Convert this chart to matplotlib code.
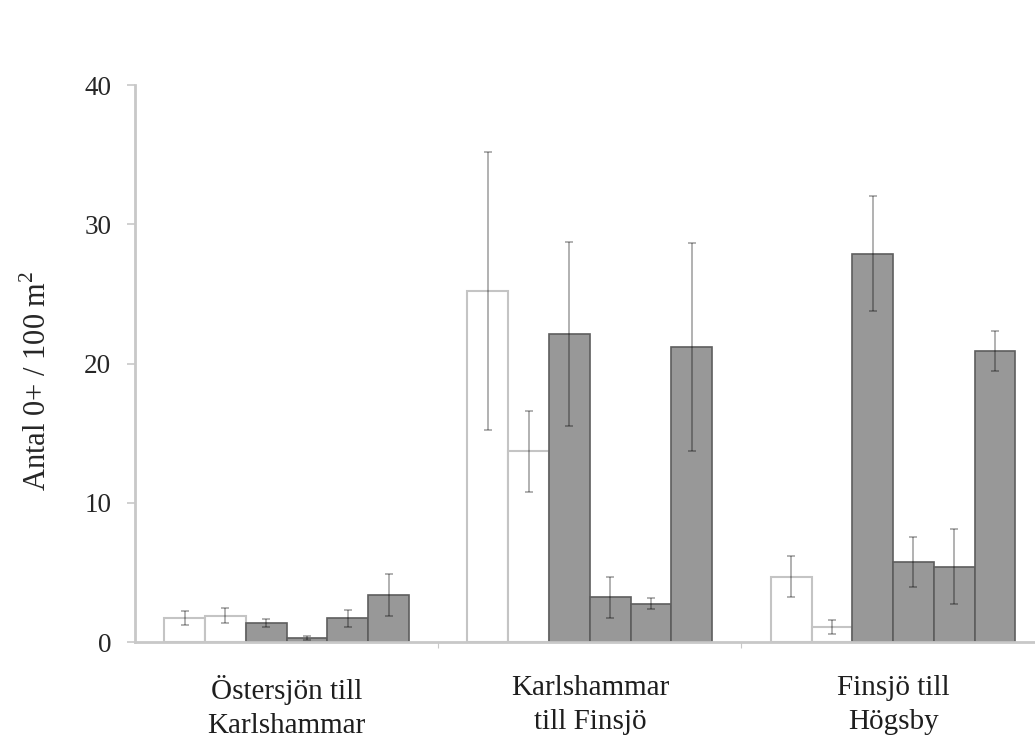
import numpy as np
import matplotlib
matplotlib.use("Agg")
import matplotlib.pyplot as plt

# sites and per-site values (6 bars per site: 2 white, 4 grey)
sites = ["Östersjön till\nKarlshammar", "Karlshammar\ntill Finsjö", "Finsjö till\nHögsby"]
means = [
    [1.75, 1.9, 1.35, 0.3, 1.7, 3.4],
    [25.2, 13.7, 22.1, 3.2, 2.75, 21.2],
    [4.7, 1.1, 27.9, 5.75, 5.4, 20.9],
]
errs = [
    [0.5, 0.55, 0.27, 0.15, 0.6, 1.5],
    [10.0, 2.9, 6.6, 1.45, 0.38, 7.45],
    [1.5, 0.5, 4.1, 1.8, 2.7, 1.45],
]
is_white = [True, True, False, False, False, False]

plt.rcParams['font.family'] = ['Liberation Serif', 'DejaVu Serif']

fig = plt.figure(figsize=(10.35, 7.4), dpi=100)
ax = fig.add_axes([0.1304, 0.1324, 0.879, 0.7527])

w = 0.1345
x = np.arange(len(sites))
for j in range(6):
    vals = [m[j] for m in means]
    ee = [e[j] for e in errs]
    pos = x + (j - 2.5) * w
    if is_white[j]:
        ax.bar(pos, vals, width=w, color="white", edgecolor="#c4c4c4", linewidth=1.5, zorder=2)
    else:
        ax.bar(pos, vals, width=w, color="#989898", edgecolor="#5e5e5e", linewidth=1.2, zorder=2)
    ax.errorbar(pos, vals, yerr=ee, fmt="none", ecolor=(0, 0, 0, 0.33),
                elinewidth=1.3, capsize=3, capthick=1.3, zorder=3)

ax.set_xlim(-0.5, 2.5)
ax.set_ylim(0, 40)
ax.set_yticks([0, 10, 20, 30, 40])

# group separators as major ticks, labels on minor ticks at centres
ax.set_xticks([0.5, 1.5])
ax.set_xticklabels([])
ax.set_xticks(x, minor=True)
ax.set_xticklabels(sites, minor=True, fontsize=21, color="#1e1e1e", linespacing=1.4)
ax.tick_params(axis="x", which="minor", length=0, pad=24)
ax.tick_params(axis="x", which="major", length=4, color="#c8c8c8", direction="out")
ax.tick_params(axis="y", length=6, color="#c8c8c8", width=1.2, labelsize=19.5,
               labelcolor="#262626", pad=11)

for s in ["top", "right"]:
    ax.spines[s].set_visible(False)
for s in ["left", "bottom"]:
    ax.spines[s].set_color("#c8c8c8")
    ax.spines[s].set_linewidth(2)

ax.set_ylabel("Antal 0+ / 100 m$^\\mathregular{2}$", fontsize=22, color="#262626")
ax.yaxis.set_label_coords(-0.09, 0.47)

fig.savefig("out.png", dpi=100)
